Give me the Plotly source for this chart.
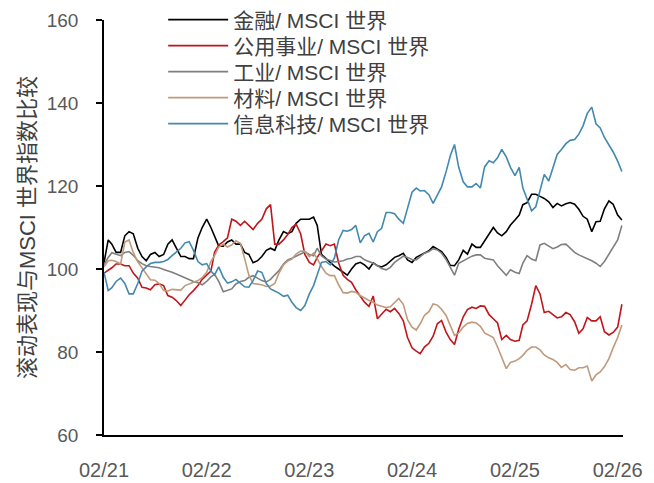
import pandas as pd
import plotly.graph_objects as go

# semi-monthly observation dates (1st and 16th of each month, Feb 2021 .. Feb 2026)
months = pd.date_range("2021-02-01", periods=61, freq="MS")
dates = []
for d in months:
    dates.append(d.strftime("%Y-%m-01"))
    dates.append(d.strftime("%Y-%m-16"))

fin = [101.5, 107, 106, 104, 104, 108, 109, 108.5, 105, 103, 102, 103.5, 104, 103, 103.5, 106, 107, 105, 103, 103, 102.5, 102.5, 107.5, 110, 112,
       110, 108, 105.5, 105.5, 106.5, 107, 106, 106, 104, 103.5, 101.5, 102, 103, 104.5, 105, 104.5, 107, 109, 108.5, 109, 111, 112, 112, 112,
       112.5, 110.5, 103.5, 102.5, 101.5, 100.7, 100, 99.2, 98.5, 100, 101.2, 101.6, 101, 100, 101.5, 100.8, 100.5, 101, 101.8, 102.8, 103.2, 103.8, 102.2, 101.6,
       102.8, 103.3, 103.9, 104.4, 105.4, 104.8, 104.2, 102.8, 100.9, 100.8, 102.2, 104.5, 103.6, 106, 105.2, 105.2, 106.8, 108.5, 110, 108.7, 108, 109, 110.6, 111.8,
       113, 115.5, 116, 118, 118, 117.5, 117, 116.2, 114.8, 115.8, 115.2, 115.7, 116, 115.6, 114.4, 112.7, 112, 109, 111.4, 111.5, 114.5, 116.4, 115.6, 113, 111.8]
util = [99, 99.6, 100.3, 101.2, 101.2, 100.8, 100.8, 99, 97.8, 95.6, 95.4, 95, 96.2, 96.4, 96, 93.6, 93.2, 92.4, 91.2, 92.5, 93.8, 94.8, 96, 97.5, 98.5,
        99.5, 104, 105.8, 106.6, 107.5, 112, 111.5, 110.5, 111.5, 110.5, 109.5, 111, 112, 114.5, 115.5, 106, 106, 107, 108.3, 110, 110.8, 108.5, 103.5, 101.6,
        101, 102.8, 104.3, 106, 105.6, 106, 101.5, 98.5, 97.5, 96.8, 95, 93.5, 92, 91, 93.5, 88, 89.2, 90.3, 89.7, 90.5, 89.3, 87.5, 83.5, 81,
        80.2, 79.6, 81.2, 82.1, 83.8, 86.8, 87.6, 84.8, 83, 81.8, 85.5, 88.5, 90.2, 90.8, 90.5, 91.1, 91, 89, 88, 87, 83, 84, 83, 82.6,
        82.8, 86.5, 87.5, 91.5, 96, 94, 89.5, 89.8, 89, 88.2, 88.5, 89.5, 89, 87.3, 84.5, 85.6, 88.3, 87.5, 87.5, 88.5, 84.9, 84.1, 84.7, 86, 91.5]
indu = [101, 102.8, 103.9, 103.6, 103.2, 104, 104.2, 103.3, 102, 101.3, 100.8, 100.6, 100.5, 100.3, 99.9, 99.6, 99.2, 98.8, 98.3, 97.8, 97.4, 97, 96.7, 96.2, 97,
        98.1, 98.7, 97, 94.5, 94.8, 95.2, 96.4, 97, 97.2, 98, 98.4, 97.7, 97.2, 96.9, 97.5, 98.6, 99.6, 101.2, 102.2, 102.6, 103.1, 103.8, 104.1, 103.5,
        103.2, 105, 103.2, 102.4, 102, 101.7, 101.8, 102, 102.4, 102.6, 103, 103, 102.2, 101.8, 101.4, 100.8, 100.1, 99.8, 100.4, 101.6, 102.4, 103.1, 102.8, 102.3,
        102.2, 102.9, 103.8, 104.2, 104.9, 104.6, 103.8, 102.3, 100.5, 98.5, 101.4, 102, 102.4, 103.1, 103.4, 103.4, 102.6, 102.3, 102.2, 100.8, 99.7, 98.5, 99.8, 99.2,
        98.9, 101.4, 103.2, 102.4, 102, 105.8, 106.2, 105.6, 104.9, 105.3, 105.9, 106, 105, 104, 103.4, 103, 102.5, 102, 101.4, 100.6, 101.8, 103.5, 105, 107, 110.5]
mate = [100.5, 102, 102.1, 101.8, 101.2, 106.5, 107, 104, 101.7, 100.3, 98.8, 97.4, 97.3, 96.5, 94.8, 94.7, 95.1, 95, 94.9, 96, 96.4, 96.8, 97.2, 97.9, 99.2,
        101.8, 103.2, 105.3, 106, 105.3, 105.8, 106.8, 106.2, 102.5, 98.5, 96.5, 96.3, 96.2, 95.8, 95.9, 96.5, 99, 101, 101.9, 102.4, 103.6, 104.3, 104.3, 103,
        103.8, 102.5, 100.6, 99, 98.4, 98.4, 96.2, 94.3, 94.2, 94.6, 94.4, 93.6, 93, 92.4, 92, 91.3, 91, 90.7, 90.9, 91.8, 92.9, 91.5, 87.8, 86,
        85.3, 86.8, 88.8, 89.7, 91.6, 91.3, 90.3, 88.8, 86.4, 84, 84.6, 86, 86.9, 87.2, 87, 86.2, 84.6, 84.1, 83.5, 81.2, 78.5, 76, 77.5, 77.8,
        78.4, 79.2, 80.4, 81.2, 81.2, 80.5, 79.3, 78.6, 78.2, 77.5, 76.3, 77, 75.8, 75.6, 76.2, 76.2, 76.6, 73, 74.5, 75.2, 76.5, 78.4, 81, 83.5, 86.5]
tech = [99.2, 94.8, 95.5, 97, 97.8, 96.5, 94, 94, 96.5, 99.5, 100.5, 101.3, 101.6, 101.6, 101.8, 102.3, 103.2, 104, 105, 106.3, 106.6, 104.5, 101.8, 101, 101.3,
        99.5, 98.6, 100.5, 98, 96.6, 96.9, 97.5, 96.5, 95.7, 95.6, 97.2, 99.5, 99.2, 96.5, 95.2, 94.7, 94.2, 93.4, 93.7, 92, 90.7, 90, 91.2, 94,
        96, 98.6, 101.6, 101.8, 101, 102.6, 107, 109.3, 109.1, 109.5, 110.5, 106.3, 108, 108.6, 106.5, 109, 109.8, 113.6, 113.6, 113.3, 112, 111, 114.5, 118.5,
        119.5, 118.8, 118.9, 117.9, 115.8, 117.9, 119.8, 123.4, 127.3, 130, 124.5, 121, 119.8, 119.8, 120.6, 119.5, 124.6, 126.1, 125.6, 126.8, 128.8, 127, 124.5, 122.5,
        124.5, 119.5, 116.7, 114, 115, 119, 122.8, 121.2, 124.5, 127.6, 128.8, 130.2, 131, 131.2, 132.5, 134.5, 137.5, 139, 135, 134, 131.7, 130, 128.2, 126, 123.5]

names = ["金融/ MSCI 世界", "公用事业/ MSCI 世界", "工业/ MSCI 世界", "材料/ MSCI 世界", "信息科技/ MSCI 世界"]
series = [fin, util, indu, mate, tech]
colors = ["#000000", "#C0151B", "#7F7F7F", "#C09A7B", "#4389AE"]

tick_dates = ["2021-02-01", "2022-02-01", "2023-02-01", "2024-02-01", "2025-02-01", "2026-02-01"]
tick_text = ["02/21", "02/22", "02/23", "02/24", "02/25", "02/26"]
y_ticks = [60, 80, 100, 120, 140, 160]

FONT = "Liberation Sans, Noto Sans CJK SC, sans-serif"
legend_ids = ["legend", "legend2", "legend3", "legend4", "legend5"]
legend_y = [1.0, 0.9373, 0.8747, 0.8120, 0.7494]

fig = go.Figure()
for name, vals, col, lid in zip(names, series, colors, legend_ids):
    fig.add_trace(go.Scatter(x=dates, y=vals, mode="lines", name=name, legend=lid,
                             line=dict(color=col, width=1.6)))

legend_layout = {}
for lid, ly in zip(legend_ids, legend_y):
    legend_layout[lid] = dict(x=0.114, y=ly, xanchor="left", yanchor="middle",
                              font=dict(size=21, color="#404040"), bgcolor="rgba(0,0,0,0)",
                              itemwidth=60, borderwidth=0)

fig.update_layout(
    template="none",
    width=646, height=475,
    margin=dict(l=96, r=31, t=12, b=48, autoexpand=False),
    paper_bgcolor="white", plot_bgcolor="white",
    font=dict(family=FONT, color="#595959"),
    showlegend=True,
    xaxis=dict(type="date", range=["2021-02-01", "2026-02-20"],
               tickvals=tick_dates, ticktext=tick_text, automargin=False,
               showgrid=False, zeroline=False, showline=True, linecolor="black", linewidth=1.5,
               ticks="", tickfont=dict(size=20, color="#595959"), ticklabelstandoff=16),
    yaxis=dict(range=[60, 160], tickvals=y_ticks, automargin=False, ticklabeloverflow="allow",
               showgrid=False, zeroline=False, showline=True, linecolor="black", linewidth=1.5,
               ticks="outside", ticklen=6, tickcolor="black", tickwidth=1.5,
               tickfont=dict(size=19, color="#595959"), ticklabelstandoff=14,
               title=dict(text="滚动表现与MSCI 世界指数比较", font=dict(size=22, color="#404040"), standoff=5)),
    **legend_layout,
)

fig.write_html("out.html")
